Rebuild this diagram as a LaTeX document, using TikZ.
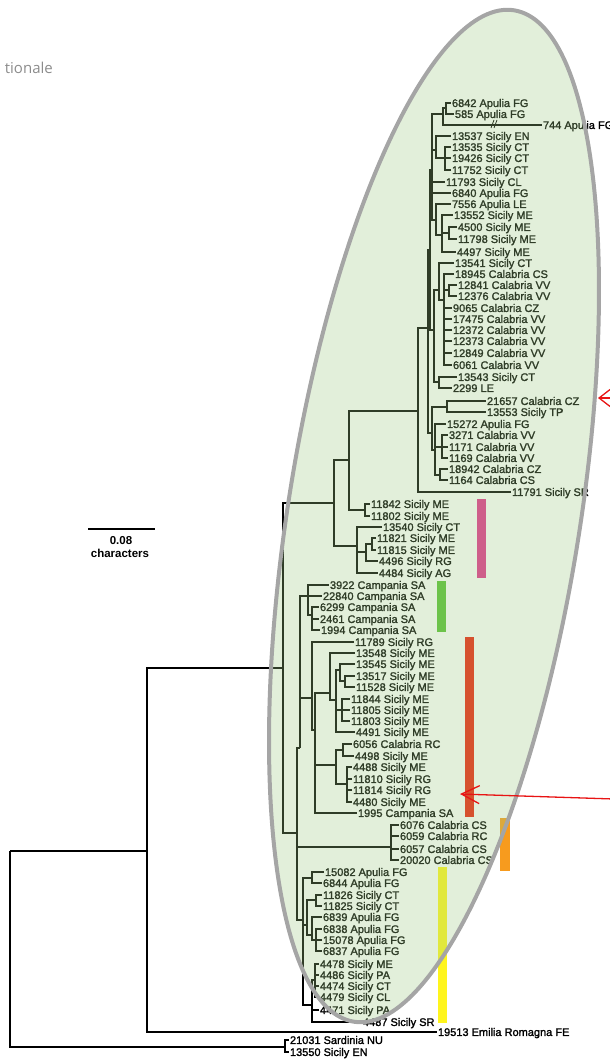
\documentclass[tikz,border=0pt]{standalone}
\usepackage{fontspec}
\setmainfont{Liberation Sans}
\newfontfamily\labfont{Liberation Sans}[FakeBold=1.6]
\newfontfamily\hdrfont{Open Sans}
\usetikzlibrary{arrows.meta}
\definecolor{ellfill}{RGB}{158,202,132}
\definecolor{ellline}{RGB}{165,165,165}
\definecolor{barpink}{RGB}{228,48,141}
\definecolor{bargreen}{RGB}{87,193,49}
\definecolor{barred}{RGB}{239,30,10}
\definecolor{barorange}{RGB}{247,155,30}
\definecolor{baryellow}{RGB}{255,245,29}
\definecolor{arrowred}{RGB}{232,20,20}
\definecolor{hdrgray}{RGB}{140,140,140}
\begin{document}
\begin{tikzpicture}[x=1pt,y=-1pt,
  br/.style={line width=1.3pt},
  lab/.style={anchor=west, inner sep=0.8pt, font=\labfont\fontsize{11}{12}\selectfont, text height=7.9pt, text depth=0pt},
  scalelab/.style={inner sep=0pt, font=\fontsize{11.5}{12}\selectfont\bfseries},
  redarrow/.style={draw=arrowred, line width=1.3pt},
  ellipseline/.style={draw=ellline, line width=4pt},
  hdr/.style={inner sep=0pt, anchor=base east, font=\hdrfont\fontsize{15}{16}\selectfont, text=hdrgray}]
\useasboundingbox (0,0) rectangle (610,1060);

% header fragment
\node[hdr] (hdr) at (53,73) {tionale};

% coloured bars
\fill[barpink]   (477,499) rectangle (486,578);
\fill[bargreen]  (437,581) rectangle (446,632);
\fill[barred]    (465,637) rectangle (474,817);
\fill[barorange] (500,818) rectangle (510,871);
\fill[baryellow] (438,867) rectangle (447,1023);

% leaves
\foreach \n/\x/\y/\t in {
l1/451/103/6842 Apulia FG, l2/454/114/585 Apulia FG, l3/542/125/744 Apulia FG,
l4/451/136/13537 Sicily EN, l5/451/147/13535 Sicily CT, l6/451/158/19426 Sicily CT,
l7/451/170/11752 Sicily CT, l8/445/182/11793 Sicily CL, l9/451/193/6840 Apulia FG,
l10/451/204/7556 Apulia LE, l11/453/215/13552 Sicily ME, l12/457/227/4500 Sicily ME,
l13/457/239/11798 Sicily ME, l14/456/252/4497 Sicily ME, l15/454/263/13541 Sicily CT,
l16/454/274/18945 Calabria CS, l17/457/285/12841 Calabria VV, l18/457/296/12376 Calabria VV,
l19/452/308/9065 Calabria CZ, l20/452/319/17475 Calabria VV, l21/452/330/12372 Calabria VV,
l22/452/341/12373 Calabria VV, l23/452/353/12849 Calabria VV, l24/452/365/6061 Calabria VV,
l25/457/377/13543 Sicily CT, l26/452/388/2299 LE, l27/486/401/21657 Calabria CZ,
l28/486/412/13553 Sicily TP, l29/446/424/15272 Apulia FG, l30/448/435/3271 Calabria VV,
l31/448/447/1171 Calabria VV, l32/448/458/1169 Calabria VV, l33/448/469/18942 Calabria CZ,
l34/448/480/1164 Calabria CS, l35/511/492/11791 Sicily SR, l36/370/504/11842 Sicily ME,
l37/370/516/11802 Sicily ME, l38/382/527/13540 Sicily CT, l39/376/538/11821 Sicily ME,
l40/376/550/11815 Sicily ME, l41/378/561/4496 Sicily RG, l42/378/573/4484 Sicily AG,
l43/329/585/3922 Campania SA, l44/322/596/22840 Campania SA, l45/319/607/6299 Campania SA,
l46/319/619/2461 Campania SA, l47/320/630/1994 Campania SA, l48/354/642/11789 Sicily RG,
l49/355/653/13548 Sicily ME, l50/355/664/13545 Sicily ME, l51/355/676/13517 Sicily ME,
l52/355/687/11528 Sicily ME, l53/350/699/11844 Sicily ME, l54/350/710/11805 Sicily ME,
l55/350/721/11803 Sicily ME, l56/355/732/4491 Sicily ME, l57/352/744/6056 Calabria RC,
l58/354/756/4498 Sicily ME, l59/352/767/4488 Sicily ME, l60/352/779/11810 Sicily RG,
l61/352/790/11814 Sicily RG, l62/352/802/4480 Sicily ME, l63/357/813/1995 Campania SA,
l64/399/825/6076 Calabria CS, l65/399/836/6059 Calabria RC, l66/399/849/6057 Calabria CS,
l67/399/860/20020 Calabria CS, l68/324/872/15082 Apulia FG, l69/322/883/6844 Apulia FG,
l70/322/895/11826 Sicily CT, l71/322/906/11825 Sicily CT, l72/322/917/6839 Apulia FG,
l73/322/929/6838 Apulia FG, l74/322/940/15078 Apulia FG, l75/322/951/6837 Apulia FG,
l76/319/964/4478 Sicily ME, l77/319/975/4486 Sicily PA, l78/319/986/4474 Sicily CT,
l79/319/997/4479 Sicily CL, l80/319/1010/4471 Sicily PA, l81/362/1022/4487 Sicily SR,
l82/437/1032/19513 Emilia Romagna FE, l83/289/1040/21031 Sardinia NU, l84/289/1052/13550 Sicily EN}
  {\node[lab] (\n) at (\x,\y) {\t};}

% internal nodes
\foreach \n/\x/\y in {
iR/10/851, iA/147/851, iZ/285/1047, iC/283/668, iD/334/503, iD1/349/460, iX/365/510,
iT0/418/411, iT1/428/328, iT2/430/250, iT3/432/433, iU1/432/170, iP1/443/114, iP1a/446/108,
iQ/436/150, iQ1/445/158, iRr/436/220, iRr1/442/235, iRr2/449/233, iU2/434/330, iS/439/290,
iS2/444/300, iS1/449/290, iU/439/382, iV/447/407, iW/435/450, iW1/442/447, iW2/440/475,
iY/357/546, iY2/366/552, iY3/372/544, iE/297/833, iF/300/748, iCa/308/596, iCa1/312/615,
iRd/312/698, iRd1/315/730, iRd2/330/693, iRd3/336/700, iRd3a/340/670, iRd3b/345/681,
iRd3c/342/710, iRd5/336/765, iRd5a/343/750, iRd5b/347/784, iCC/391/847, iH/303/920,
iAp1/312/878, iH2/307/925, iSc1/316/900, iAp2/312/935, iAp3/316/940, iSc2/312/1005,
iSc2a/315/980}
  {\coordinate (\n) at (\x,\y);}

% branches
\foreach \p/\c in {
iR/iA, iR/iZ, iA/iC, iA/l82, iZ/l83, iZ/l84, iC/iD, iC/iE, iD/iD1, iD/iY,
iD1/iT0, iD1/iX, iX/l36, iX/l37, iT0/iT1, iT0/l35, iT1/iT2, iT1/iT3,
iT2/iU1, iT2/iU2, iU1/iP1, iU1/iQ, iU1/l8, iU1/l9, iU1/iRr,
iP1/iP1a, iP1/l3, iP1a/l1, iP1a/l2, iQ/l4, iQ/iQ1, iQ1/l5, iQ1/l6, iQ1/l7,
iRr/l10, iRr/iRr1, iRr1/l11, iRr1/iRr2, iRr1/l14, iRr2/l12, iRr2/l13,
iU2/iS, iU2/iU, iS/l15, iS/iS2, iS2/l16, iS2/iS1, iS2/l19, iS2/l20, iS2/l21,
iS2/l22, iS2/l23, iS2/l24, iS1/l17, iS1/l18, iU/l25, iU/l26,
iT3/iV, iT3/iW, iV/l27, iV/l28, iW/l29, iW/iW1, iW/iW2, iW1/l30, iW1/l31, iW1/l32,
iW2/l33, iW2/l34, iY/l38, iY/iY2, iY/l42, iY2/iY3, iY2/l41, iY3/l39, iY3/l40,
iE/iF, iE/iCC, iE/iH, iF/iCa, iF/iRd, iCa/l43, iCa/l44, iCa/iCa1,
iCa1/l45, iCa1/l46, iCa1/l47, iRd/l48, iRd/iRd1, iRd1/iRd2, iRd1/iRd5, iRd1/l63,
iRd2/l49, iRd2/iRd3, iRd3/iRd3a, iRd3/iRd3c, iRd3/l56, iRd3a/l50, iRd3a/iRd3b,
iRd3b/l51, iRd3b/l52, iRd3c/l53, iRd3c/l54, iRd3c/l55, iRd5/iRd5a, iRd5/iRd5b,
iRd5a/l57, iRd5a/l58, iRd5b/l59, iRd5b/l60, iRd5b/l61, iRd5b/l62,
iCC/l64, iCC/l65, iCC/l66, iCC/l67, iH/iAp1, iH/iH2, iH/iSc2, iAp1/l68, iAp1/l69,
iH2/iSc1, iH2/iAp2, iSc1/l70, iSc1/l71, iAp2/l72, iAp2/iAp3, iAp3/l73, iAp3/l74,
iAp3/l75, iSc2/iSc2a, iSc2/l80, iSc2/l81, iSc2a/l76, iSc2a/l77, iSc2a/l78, iSc2a/l79}
  {\draw[br] (\p) |- (\c);}

% break mark on the long 744 branch
\draw[line width=0.8pt] (491,128) -- (494,120) (494,128) -- (497,120);

% scale bar
\coordinate (sbL) at (88,529);
\coordinate (sbR) at (155,529);
\draw[line width=1.1pt] (sbL) -- (sbR);
\node[scalelab] (sbv) at (121,541) {0.08};
\node[scalelab] (sbu) at (120,553) {characters};

% highlighted clade ellipse
\fill[ellfill, opacity=0.3, rotate around={-9:(434,516)}] (434,516) ellipse [x radius=146, y radius=512];
\draw[ellipseline, rotate around={-9:(434,516)}] (434,516) ellipse [x radius=146, y radius=512];

% red arrows
\coordinate (a1s) at (614,398);
\coordinate (a1e) at (598,398);
\draw[redarrow, -{Straight Barb[length=11pt,width=17pt]}] (a1s) -- (a1e);
\coordinate (a2s) at (614,799);
\coordinate (a2e) at (460,794);
\draw[redarrow, -{Straight Barb[length=18pt,width=18pt]}] (a2s) -- (a2e);
\end{tikzpicture}
\end{document}
